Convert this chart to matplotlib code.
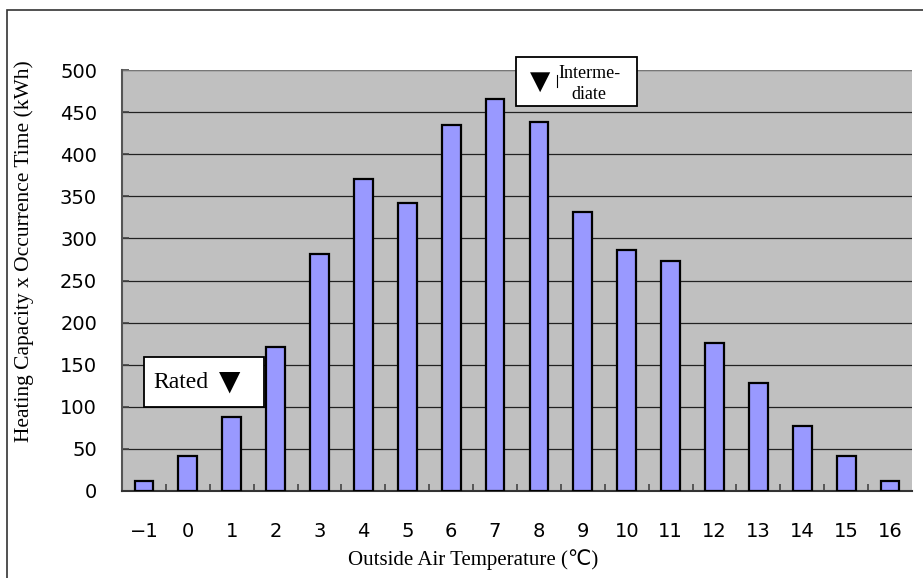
import matplotlib.pyplot as plt
from matplotlib.patches import Rectangle
from matplotlib.lines import Line2D

temps = [-1, 0, 1, 2, 3, 4, 5, 6, 7, 8, 9, 10, 11, 12, 13, 14, 15, 16]
values = [12, 42, 88, 171, 281, 371, 342, 435, 465, 438, 331, 286, 273, 176, 128, 77, 42, 12]
yticks = [0, 50, 100, 150, 200, 250, 300, 350, 400, 450, 500]

serif = ['Liberation Serif', 'DejaVu Sans']
sans = ['DejaVu Sans']

W, H = 923, 578
fig = plt.figure(figsize=(9.23, 5.78), dpi=100)
ax = fig.add_axes([122 / W, 1 - 491 / H, 790 / W, 421 / H])

pos = list(range(len(temps)))
ax.bar(pos, values, width=0.43, color='#9999FF', edgecolor='black', linewidth=1.6, zorder=3)

ax.set_facecolor('#C0C0C0')
ax.set_xlim(-0.5, len(temps) - 0.5)
ax.set_ylim(0, 500)
ax.set_yticks(yticks)
ax.set_yticklabels([str(v) for v in yticks], family=sans, fontsize=14)
ax.yaxis.grid(True, color='#222222', linewidth=0.9, zorder=1)
ax.set_xticks(pos)
ax.set_xticklabels(['\u2212' + str(-t) if t < 0 else str(t) for t in temps], family=sans, fontsize=14)
ax.set_xticks([p + 0.5 for p in pos[:-1]], minor=True)
ax.tick_params(axis='x', which='major', length=0, pad=22)
ax.tick_params(axis='x', which='minor', length=5, direction='in', color='#444444', width=1.2)
ax.tick_params(axis='y', length=5, direction='in', color='#444444', width=1.2, pad=18)

for side in ['top', 'right']:
    ax.spines[side].set_visible(False)
ax.spines['left'].set_color('#555555')
ax.spines['bottom'].set_color('#333333')
ax.spines['left'].set_linewidth(1.5)
ax.spines['bottom'].set_linewidth(1.5)
ax.axhline(500, color='#777777', linewidth=1.5, zorder=2)

ax.set_xlabel('Outside Air Temperature (\u2103)', family=serif, fontsize=15)
ax.xaxis.set_label_coords((473 - 122) / 790, (491 - 549) / 421)
ax.set_ylabel('Heating Capacity x Occurrence Time (kWh)', family=serif, fontsize=15.5)
ax.yaxis.set_label_coords((34 - 122) / 790, (491 - 251) / 421)

# "Rated" annotation box
fig.patches.append(Rectangle((144 / W, 1 - 407 / H), 120 / W, 50 / H, transform=fig.transFigure,
                             facecolor='white', edgecolor='black', linewidth=1.3, zorder=5))
fig.text(153 / W, 1 - 382 / H, 'Rated', family=serif, fontsize=17, ha='left', va='center', zorder=6)
fig.text(230 / W, 1 - 382 / H, '\u25bc', family=sans, fontsize=20, ha='center', va='center', zorder=6)

# "Intermediate" annotation box
fig.patches.append(Rectangle((516 / W, 1 - 106 / H), 121 / W, 49 / H, transform=fig.transFigure,
                             facecolor='white', edgecolor='black', linewidth=1.3, zorder=5))
fig.text(540 / W, 1 - 82 / H, '\u25bc', family=sans, fontsize=19, ha='center', va='center', zorder=6)
fig.text(589 / W, 1 - 84 / H, 'Interme-\ndiate', family=serif, fontsize=13,
         ha='center', va='center', linespacing=1.35, zorder=6)
fig.lines.append(Line2D([557 / W, 557 / W], [1 - 75 / H, 1 - 87 / H], transform=fig.transFigure,
                        color='black', linewidth=0.8, zorder=6))

# outer chart border
fig.patches.append(Rectangle((7 / W, -0.05), 1.0, 1 - 10 / H + 0.05, transform=fig.transFigure,
                             fill=False, edgecolor='#333333', linewidth=1.2))

fig.savefig('out.png', dpi=100)
